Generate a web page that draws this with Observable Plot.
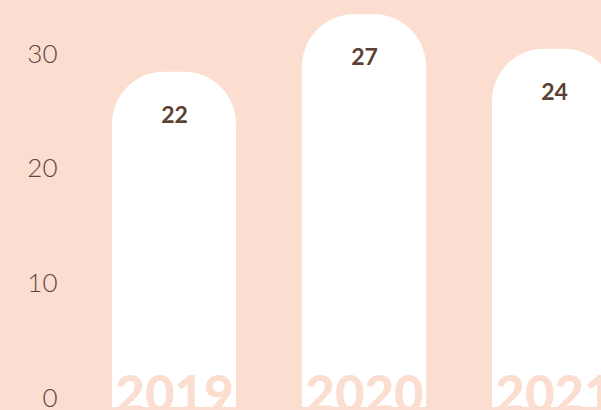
<!DOCTYPE html>
<html>
<head>
<meta charset="utf-8">
<script src="https://cdn.jsdelivr.net/npm/d3@7"></script>
<script src="https://cdn.jsdelivr.net/npm/@observablehq/plot@0.6"></script>
<style>
  html, body { margin: 0; padding: 0; background: #fbded0; overflow: hidden; }
</style>
</head>
<body>
<div id="chart"></div>
<script>
const years = ["2019", "2020", "2021"];
const values = [22, 27, 24];
const yTicks = [0, 10, 20, 30];

const data = years.map((year, i) => ({year, value: values[i]}));

const peach = "#fbded0";
const brown = "#5b4134";
const font = "Lato, 'Open Sans', sans-serif";

const chart = Plot.plot({
  width: 663,
  height: 407,
  marginLeft: 65,
  marginRight: 0,
  marginTop: 8,
  marginBottom: 9,
  style: {background: peach, maxWidth: "none", overflow: "hidden", fontFamily: font},
  x: {domain: years, paddingInner: 0.345, paddingOuter: 0.24, label: null},
  y: {domain: [0, 34], label: null},
  marks: [
    Plot.barY(data, {x: "year", y: "value", fill: "white", rx: 52, insetTop: -74, insetBottom: -90}),
    Plot.axisY({ticks: yTicks, label: null, tickSize: 0, tickPadding: 8, fontSize: 26, fontWeight: 300, color: "#5f463a", fontFamily: font}),
    Plot.axisX({label: null, tickSize: 0, tickPadding: -23, fontSize: 51, fontWeight: 900, color: peach, fontFamily: font}),
    Plot.text(data, {x: "year", y: "value", text: d => String(d.value), dy: -31, fontSize: 23, fontWeight: 700, fill: brown, fontFamily: font})
  ]
});
document.getElementById("chart").appendChild(chart);
</script>
</body>
</html>
